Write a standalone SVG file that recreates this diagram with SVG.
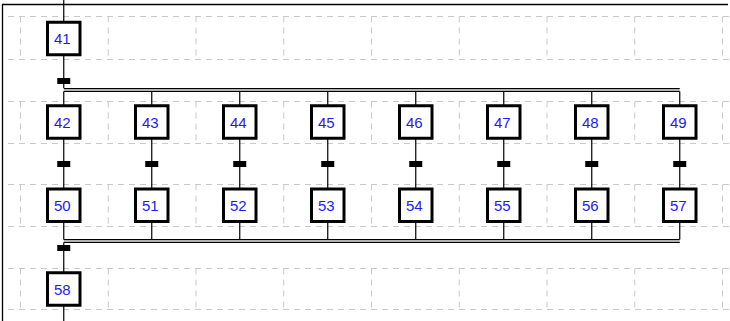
<svg xmlns="http://www.w3.org/2000/svg" width="730" height="321" viewBox="0 0 730 321">
<defs>
<style>
.grid{fill:none;stroke:#c8c8c8;stroke-width:1;stroke-dasharray:6,5}
.frame{fill:none;stroke:#000;stroke-width:1.3}
.step{fill:#fff;stroke:#000;stroke-width:3}
.lbl{font-family:"Liberation Sans",Arial,sans-serif;font-size:15px;fill:#1a1aff;text-anchor:middle}
.ln{fill:none;stroke:#000;stroke-width:1.2}
.dbl{fill:none;stroke:#000;stroke-width:1}
.dblm{fill:none;stroke:#b0b0b0;stroke-width:2}
.bar{fill:#000}
</style>
</defs>
<rect width="730" height="321" fill="#fff"/>
<g id="grid">
<path class="grid" d="M8 16.5H730M8 59.5H730M8 101.5H730M8 143.5H730M8 184.5H730M8 226.5H730M8 268.5H730M8 309.5H730"/>
<path class="grid" d="M20.5 16.5V59.5M108.25 16.5V59.5M196 16.5V59.5M283.75 16.5V59.5M371.5 16.5V59.5M459.25 16.5V59.5M547 16.5V59.5M634.75 16.5V59.5M722.5 16.5V59.5
M20.5 101.5V143.5M108.25 101.5V143.5M196 101.5V143.5M283.75 101.5V143.5M371.5 101.5V143.5M459.25 101.5V143.5M547 101.5V143.5M634.75 101.5V143.5M722.5 101.5V143.5
M20.5 184.5V226.5M108.25 184.5V226.5M196 184.5V226.5M283.75 184.5V226.5M371.5 184.5V226.5M459.25 184.5V226.5M547 184.5V226.5M634.75 184.5V226.5M722.5 184.5V226.5
M20.5 268.5V309.5M108.25 268.5V309.5M196 268.5V309.5M283.75 268.5V309.5M371.5 268.5V309.5M459.25 268.5V309.5M547 268.5V309.5M634.75 268.5V309.5M722.5 268.5V309.5"/>
</g>
<g id="frame">
<path class="frame" d="M2.5 321V4.5H728"/>
</g>
<g id="connectors">
<path class="ln" d="M63.75 0V22M63.75 55V88"/>
<rect class="bar" x="57.25" y="78" width="13" height="6"/>
<path class="dblm" d="M63.75 90H679.75"/>
<path class="dbl" d="M63.75 88.5H679.75M63.75 91.5H679.75"/>
<path class="ln" d="M63.75 91.5V106M151.75 91.5V106M239.75 91.5V106M327.75 91.5V106M415.75 91.5V106M503.75 91.5V106M591.75 91.5V106M679.75 91.5V106"/>
<path class="ln" d="M63.75 138V189M151.75 138V189M239.75 138V189M327.75 138V189M415.75 138V189M503.75 138V189M591.75 138V189M679.75 138V189"/>
<rect class="bar" x="57.25" y="161" width="13" height="6"/>
<rect class="bar" x="145.25" y="161" width="13" height="6"/>
<rect class="bar" x="233.25" y="161" width="13" height="6"/>
<rect class="bar" x="321.25" y="161" width="13" height="6"/>
<rect class="bar" x="409.25" y="161" width="13" height="6"/>
<rect class="bar" x="497.25" y="161" width="13" height="6"/>
<rect class="bar" x="585.25" y="161" width="13" height="6"/>
<rect class="bar" x="673.25" y="161" width="13" height="6"/>
<path class="ln" d="M63.75 221V239.5M151.75 221V239.5M239.75 221V239.5M327.75 221V239.5M415.75 221V239.5M503.75 221V239.5M591.75 221V239.5M679.75 221V239.5"/>
<path class="dblm" d="M63.75 241H679.75"/>
<path class="dbl" d="M63.75 239.5H679.75M63.75 242.5H679.75"/>
<path class="ln" d="M63.75 242.5V273M63.75 305V321"/>
<rect class="bar" x="57.25" y="245" width="13" height="6"/>
</g>
<g id="step41"><rect class="step" x="47.5" y="22.25" width="32.5" height="32.5"/><text class="lbl" x="62.25" y="44">41</text></g>
<g id="step42"><rect class="step" x="47.5" y="105.75" width="32.5" height="32.5"/><text class="lbl" x="62.25" y="127.5">42</text></g>
<g id="step43"><rect class="step" x="135.5" y="105.75" width="32.5" height="32.5"/><text class="lbl" x="150.25" y="127.5">43</text></g>
<g id="step44"><rect class="step" x="223.5" y="105.75" width="32.5" height="32.5"/><text class="lbl" x="238.25" y="127.5">44</text></g>
<g id="step45"><rect class="step" x="311.5" y="105.75" width="32.5" height="32.5"/><text class="lbl" x="326.25" y="127.5">45</text></g>
<g id="step46"><rect class="step" x="399.5" y="105.75" width="32.5" height="32.5"/><text class="lbl" x="414.25" y="127.5">46</text></g>
<g id="step47"><rect class="step" x="487.5" y="105.75" width="32.5" height="32.5"/><text class="lbl" x="502.25" y="127.5">47</text></g>
<g id="step48"><rect class="step" x="575.5" y="105.75" width="32.5" height="32.5"/><text class="lbl" x="590.25" y="127.5">48</text></g>
<g id="step49"><rect class="step" x="663.5" y="105.75" width="32.5" height="32.5"/><text class="lbl" x="678.25" y="127.5">49</text></g>
<g id="step50"><rect class="step" x="47.5" y="189" width="32.5" height="32.5"/><text class="lbl" x="62.25" y="210.75">50</text></g>
<g id="step51"><rect class="step" x="135.5" y="189" width="32.5" height="32.5"/><text class="lbl" x="150.25" y="210.75">51</text></g>
<g id="step52"><rect class="step" x="223.5" y="189" width="32.5" height="32.5"/><text class="lbl" x="238.25" y="210.75">52</text></g>
<g id="step53"><rect class="step" x="311.5" y="189" width="32.5" height="32.5"/><text class="lbl" x="326.25" y="210.75">53</text></g>
<g id="step54"><rect class="step" x="399.5" y="189" width="32.5" height="32.5"/><text class="lbl" x="414.25" y="210.75">54</text></g>
<g id="step55"><rect class="step" x="487.5" y="189" width="32.5" height="32.5"/><text class="lbl" x="502.25" y="210.75">55</text></g>
<g id="step56"><rect class="step" x="575.5" y="189" width="32.5" height="32.5"/><text class="lbl" x="590.25" y="210.75">56</text></g>
<g id="step57"><rect class="step" x="663.5" y="189" width="32.5" height="32.5"/><text class="lbl" x="678.25" y="210.75">57</text></g>
<g id="step58"><rect class="step" x="47.5" y="272.75" width="32.5" height="32.5"/><text class="lbl" x="62.25" y="294.5">58</text></g>
</svg>
